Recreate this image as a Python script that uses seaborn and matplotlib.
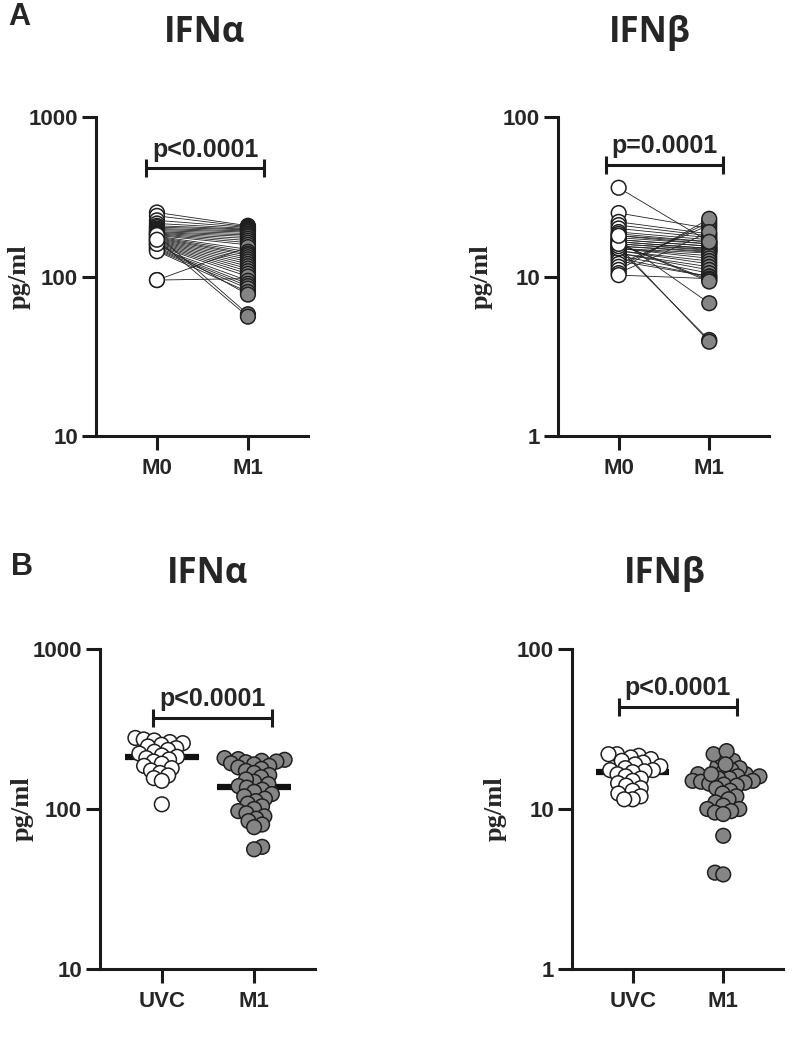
import numpy as np
import pandas as pd
import matplotlib
matplotlib.use("Agg")
import matplotlib.pyplot as plt
import matplotlib.ticker as mticker
import matplotlib.transforms as mtransforms
from matplotlib.collections import PathCollection
import seaborn as sns

# panel A: paired samples M0 -> M1 (pg/ml)
m0_alpha = [252, 240, 225, 215, 208, 204, 200, 197, 194, 191, 189, 187, 185, 183, 181,
            179, 95, 177, 175, 173, 171, 169, 167, 165, 163, 161, 159, 157, 95, 155,
            152, 150, 148, 146, 144, 160, 182, 170]
m1_alpha = [208, 205, 203, 200, 198, 196, 193, 190, 186, 182, 178, 173, 168, 163, 158,
            148, 153, 143, 139, 136, 132, 128, 124, 120, 116, 112, 108, 104, 97, 100,
            94, 90, 87, 84, 80, 77, 58, 56]
m0_beta = [36, 25, 22, 21, 20, 19, 18.5, 18, 17.5, 17, 17, 16.5, 16.5, 16, 16,
           15.5, 15.5, 15, 15, 15, 14.5, 14.5, 14, 14, 13.5, 13, 12.5, 12, 11.5, 11,
           10.5, 10.2, 16, 15, 15.5, 17, 16, 18]
m1_beta = [16.5, 20, 18.5, 18, 17.5, 17, 16.5, 16, 16, 15.5, 15.5, 15, 15, 14.8, 14.6,
           14.4, 14.2, 14, 13.5, 13, 12.5, 12, 11.5, 11, 10.5, 10, 10, 21, 22, 23,
           19, 9.7, 9.5, 4.0, 3.9, 6.8, 9.3, 16.5]

# panel B: UVC vs M1 (pg/ml)
uvc_alpha = [278, 272, 268, 262, 258, 252, 246, 240, 234, 228, 222, 216, 212, 208,
             204, 198, 192, 186, 180, 174, 168, 162, 156, 150, 107]
uvc_beta = [22, 22, 21.5, 21, 20.5, 20, 19.5, 19, 18.5, 18, 17.5, 17.5, 17.2, 17,
            16.5, 16, 15.5, 15, 14.5, 14, 13.5, 13, 12.5, 12, 11.5, 11.5]
b_m1_alpha = m1_alpha
b_m1_beta = m1_beta

pair_labels = ["M0", "M1"]
group_labels = ["UVC", "M1"]
titles = ["IFN\u03b1", "IFN\u03b2", "IFN\u03b1", "IFN\u03b2"]
p_texts = ["p<0.0001", "p=0.0001", "p<0.0001", "p<0.0001"]

GRAY = "#858585"
EDGE = "#1e1e1e"
W, H = 800, 1046
MS = 112  # marker area, pt^2

sns.set_theme(style="ticks")
plt.rcParams["font.family"] = ["Liberation Sans", "DejaVu Sans"]

fig = plt.figure(figsize=(W / 100, H / 100), dpi=100)


def px_axes(x0, y0, x1, y1):
    return fig.add_axes([x0 / W, 1 - y1 / H, (x1 - x0) / W, (y1 - y0) / H])


def style_axes(ax, ylim, xlabels):
    ax.set_yscale("log")
    ax.set_ylim(*ylim)
    ax.set_xlim(-0.67, 1.66)
    ticks = [ylim[0], ylim[0] * 10, ylim[1]]
    ax.set_yticks(ticks, [str(int(t)) for t in ticks], fontsize=16, fontweight="bold")
    ax.yaxis.set_minor_locator(mticker.NullLocator())
    ax.set_xticks([0, 1], xlabels, fontsize=16, fontweight="bold")
    ax.set_xlabel("")
    ax.set_ylabel("pg/ml", fontsize=19, fontweight="bold", family="Liberation Serif")
    ax.yaxis.set_label_coords(-0.31, 0.5)
    sns.despine(ax=ax)
    for s in ["left", "bottom"]:
        ax.spines[s].set_linewidth(2.2)
        ax.spines[s].set_color("#1a1a1a")
    ax.tick_params(length=10, width=2.2, color="#1a1a1a", pad=3)
    ax.tick_params(axis="x", pad=6)
    ax.set_facecolor("none")


def bracket(ax, yfrac, text, x0=-0.12, x1=1.18):
    tr = mtransforms.blended_transform_factory(ax.transData, ax.transAxes)
    kw = dict(color="#1a1a1a", lw=2.2, transform=tr, clip_on=False, solid_capstyle="butt")
    ax.plot([x0, x1], [yfrac, yfrac], **kw)
    ax.plot([x0, x0], [yfrac - 0.028, yfrac + 0.028], **kw)
    ax.plot([x1, x1], [yfrac - 0.028, yfrac + 0.028], **kw)
    ax.text((x0 + x1) / 2, yfrac + 0.02, text, transform=tr, ha="center", va="bottom",
            fontsize=18, fontweight="bold")


def paired(ax, before, after):
    n = len(before)
    df = pd.DataFrame({
        "id": list(range(n)) * 2,
        "t": [0] * n + [1] * n,
        "v": list(before) + list(after),
    })
    sns.lineplot(data=df, x="t", y="v", units="id", estimator=None, color="#222222",
                 lw=0.6, ax=ax, legend=False, zorder=1)
    sns.scatterplot(data=df, x="t", y="v", hue="t", palette={0: "white", 1: GRAY},
                    s=MS, edgecolor=EDGE, linewidth=1.1, ax=ax, legend=False, zorder=3)


def swarm(ax, a, b):
    df = pd.DataFrame({"g": [group_labels[0]] * len(a) + [group_labels[1]] * len(b),
                       "v": list(a) + list(b)})
    n0 = len(ax.collections)
    sns.swarmplot(data=df, x="g", y="v", hue="g", order=group_labels,
                  hue_order=group_labels, palette=["white", GRAY], size=4.7,
                  edgecolor=EDGE, linewidth=1.1, legend=False, ax=ax, zorder=3)
    pts = [c for c in ax.collections[n0:] if isinstance(c, PathCollection)]
    ax.hlines([np.median(a), np.median(b)], [-0.4, 0.6], [0.4, 1.4],
              color="#111111", lw=4.5, zorder=2)
    return pts


# panel A
axA1 = px_axes(96, 117, 308, 436)
axA1.set_yscale("log")
paired(axA1, m0_alpha, m1_alpha)
style_axes(axA1, (10, 1000), pair_labels)
bracket(axA1, 0.84, p_texts[0])

axA2 = px_axes(558, 117, 769, 436)
axA2.set_yscale("log")
paired(axA2, m0_beta, m1_beta)
style_axes(axA2, (1, 100), pair_labels)
bracket(axA2, 0.85, p_texts[1], -0.14, 1.15)

# panel B
axB1 = px_axes(100, 649, 315, 969)
axB1.set_yscale("log")
sw1 = swarm(axB1, uvc_alpha, b_m1_alpha)
style_axes(axB1, (10, 1000), group_labels)
bracket(axB1, 0.785, p_texts[2], -0.1, 1.19)

axB2 = px_axes(572, 649, 783, 969)
axB2.set_yscale("log")
sw2 = swarm(axB2, uvc_beta, b_m1_beta)
style_axes(axB2, (1, 100), group_labels)
bracket(axB2, 0.82, p_texts[3], -0.15, 1.15)

# titles and panel letters
for (x, y), t in zip([(205, 33), (650, 33), (208, 574), (665, 574)], titles):
    fig.text(x / W, 1 - y / H, t, ha="center", va="center", fontsize=25,
             fontweight="bold", family=["Open Sans", "DejaVu Sans"])
fig.text(8 / W, 1 - 25 / H, "A", fontsize=22, fontweight="bold", va="baseline")
fig.text(11 / W, 1 - 575 / H, "B", fontsize=22, fontweight="bold", va="baseline")

# compute swarm positions at the smaller size, then enlarge so dots overlap
fig.canvas.draw()
for coll in sw1 + sw2:
    if "draw" in coll.__dict__:
        del coll.draw
    coll.set_sizes([MS])

fig.savefig("out.png", dpi=100)
